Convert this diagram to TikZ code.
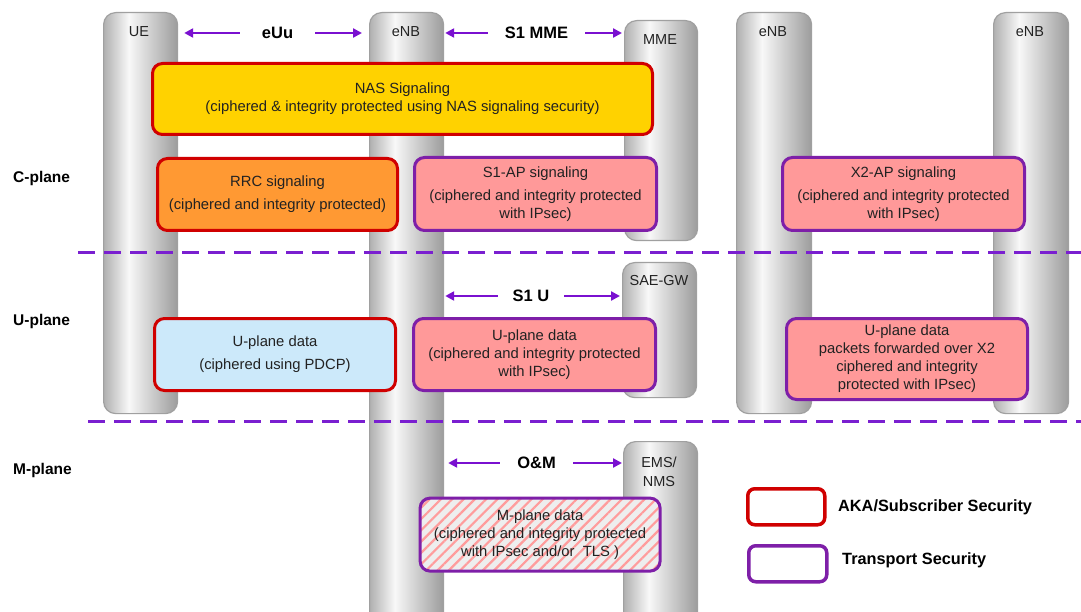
\documentclass[tikz,border=0pt]{standalone}
\usepackage{fontspec}
\setmainfont{Liberation Sans}
\usetikzlibrary{arrows.meta,patterns.meta,calc}
\definecolor{pgl}{HTML}{B0B0B0}
\definecolor{pgw}{HTML}{F8F8F8}
\definecolor{pgr}{HTML}{9C9C9C}
\definecolor{pillarborder}{HTML}{A0A0A0}
\definecolor{txt}{HTML}{222222}
\definecolor{redb}{HTML}{D00000}
\definecolor{purb}{HTML}{7E1FA8}
\definecolor{arrc}{HTML}{7A10D0}
\definecolor{dashc}{HTML}{7A1FD0}
\definecolor{nasy}{HTML}{FFD200}
\definecolor{rrco}{HTML}{FF9933}
\definecolor{pinkf}{HTML}{FF9999}
\definecolor{bluef}{HTML}{CCE9FA}
\definecolor{hatchbg}{HTML}{EEEEEE}
\definecolor{hatchc}{HTML}{FF9C9C}
\pgfdeclarehorizontalshading{pillarshade}{100bp}{color(0bp)=(pgl); color(25bp)=(pgl); color(42bp)=(pgw); color(75bp)=(pgr); color(100bp)=(pgr)}
\begin{document}
\begin{tikzpicture}[x=1pt,y=-1pt,
  pillar/.style={draw=pillarborder, line width=1.2pt, rounded corners=12pt, shading=pillarshade, anchor=north west, inner sep=0pt, minimum width=74pt},
  plabel/.style={font=\fontsize{14.5}{18}\selectfont, text=txt, align=center},
  box/.style={rounded corners=10pt, line width=3pt, anchor=north west, inner sep=0pt, align=center, font=\fontsize{14.8}{18}\selectfont, text=txt},
  redbox/.style={box, draw=redb},
  purbox/.style={box, draw=purb},
  arr/.style={draw=arrc, line width=2.5pt, -{Triangle[length=9pt,width=9pt]}},
  ilabel/.style={font=\bfseries\fontsize{15.5}{18}\selectfont, inner sep=0pt, text=black},
  iflabel/.style={ilabel, font=\bfseries\fontsize{16.5}{18}\selectfont},
  leglabel/.style={ilabel, font=\bfseries\fontsize{16.3}{18}\selectfont},
  dashline/.style={draw=dashc, line width=3pt, dash pattern=on 17pt off 9pt},
  legbox/.style={rounded corners=7pt, line width=3.5pt, anchor=north west, inner sep=0pt}
]
\useasboundingbox (0,0) rectangle (1081,612);
\clip (0,0) rectangle (1081,612);

% pillars
\node[pillar, minimum height=401pt] (ue) at (103,12) {};
\node[pillar, minimum height=640pt] (enb) at (369,12) {};
\node[pillar, minimum height=220pt, minimum width=73pt] (mme) at (624,20) {};
\node[pillar, minimum height=135pt] (sae) at (622,262) {};
\node[pillar, minimum height=200pt] (ems) at (623,441) {};
\node[pillar, minimum height=401pt, minimum width=75pt] (enbb) at (736,12) {};
\node[pillar, minimum height=401pt, minimum width=75pt] (enbc) at (993,12) {};

% pillar labels
\node[plabel] (uel) at (139,32) {UE};
\node[plabel] (enbl) at (406,32) {eNB};
\node[plabel] (mmel) at (660,40) {MME};
\node[plabel] (sael) at (659,281) {SAE-GW};
\node[plabel, font=\fontsize{14.5}{19}\selectfont] (emsl) at (659,472) {EMS/\\NMS};
\node[plabel] (enbbl) at (773,32) {eNB};
\node[plabel] (enbcl) at (1030,32) {eNB};

% separators
\coordinate (d1a) at (78,253);
\coordinate (d1b) at (1081,253);
\coordinate (d2a) at (88,421);
\coordinate (d2b) at (1081,421);
\draw[dashline] (d1a) -- (d1b);
\draw[dashline] (d2a) -- (d2b);

% plane labels
\node[ilabel, anchor=west] (cpl) at (13,178) {C-plane};
\node[ilabel, anchor=west] (upl) at (13,321) {U-plane};
\node[ilabel, anchor=west] (mpl) at (13,470) {M-plane};

% interface arrows
\node[iflabel, minimum width=75pt] (euu) at (277.5,33) {eUu};
\draw[arr] (euu.west) -- ($(ue.east|-euu)+(6,0)$);
\draw[arr] (euu.east) -- ($(enb.west|-euu)+(-7,0)$);
\node[iflabel, minimum width=97pt] (s1mme) at (536.5,33) {S1 MME};
\draw[arr] (s1mme.west) -- ($(enb.east|-s1mme)+(1,0)$);
\draw[arr] (s1mme.east) -- ($(mme.west|-s1mme)+(-2,0)$);
\node[iflabel, minimum width=66pt] (s1u) at (531,296) {S1 U};
\draw[arr] (s1u.west) -- ($(enb.east|-s1u)+(1,0)$);
\draw[arr] (s1u.east) -- ($(sae.west|-s1u)+(-2,0)$);
\node[iflabel, minimum width=73pt] (om) at (536.5,463) {O\&M};
\draw[arr] (om.west) -- ($(enb.east|-om)+(4,0)$);
\draw[arr] (om.east) -- ($(ems.west|-om)+(-1,0)$);

% boxes
\node[redbox, fill=nasy, minimum width=500pt, minimum height=71pt] (nas) at (151,62)
  {NAS Signaling\\(ciphered \& integrity protected using NAS signaling security)};
\node[redbox, fill=rrco, minimum width=240pt, minimum height=72pt] (rrc) at (156,157)
  {RRC signaling\\[5pt](ciphered and integrity protected)};
\node[purbox, fill=pinkf, minimum width=242pt, minimum height=73pt] (s1ap) at (413,156)
  {S1-AP signaling\\[5pt](ciphered and integrity protected\\with IPsec)};
\node[purbox, fill=pinkf, minimum width=242pt, minimum height=73pt] (x2ap) at (781,156)
  {X2-AP signaling\\[5pt](ciphered and integrity protected\\with IPsec)};
\node[redbox, fill=bluef, minimum width=241pt, minimum height=72pt] (upd) at (153,317)
  {U-plane data\\[5pt](ciphered using PDCP)};
\node[purbox, fill=pinkf, minimum width=242pt, minimum height=72pt] (ups1) at (412,317)
  {U-plane data\\(ciphered and integrity protected\\with IPsec)};
\node[purbox, fill=pinkf, minimum width=241pt, minimum height=81pt] (upx2) at (785,317)
  {U-plane data\\packets forwarded over X2\\ciphered and integrity\\protected with IPsec)};
\node[purbox, preaction={fill=hatchbg}, pattern={Lines[angle=45,distance=8pt,line width=2.2pt]}, pattern color=hatchc, minimum width=240pt, minimum height=73pt] (mpd) at (419,497)
  {M-plane data\\(ciphered and integrity protected\\with IPsec and/or~ TLS )};

% legend
\node[legbox, draw=redb, minimum width=77pt, minimum height=36pt] (leg1) at (746,487) {};
\node[leglabel, anchor=west] (leg1t) at (838,507) {AKA/Subscriber Security};
\node[legbox, draw=purb, minimum width=78pt, minimum height=36pt] (leg2) at (747,544) {};
\node[leglabel, anchor=west] (leg2t) at (842,560) {Transport Security};
\end{tikzpicture}
\end{document}
